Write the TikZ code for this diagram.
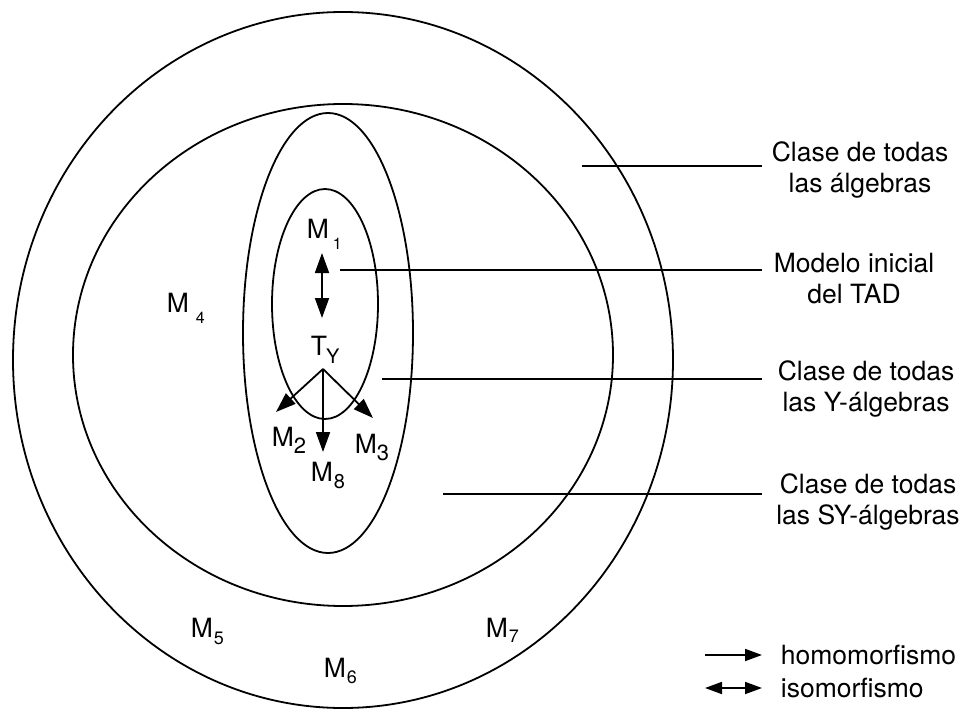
\documentclass[tikz,border=0pt]{standalone}
\usepackage{fontspec}
\setmainfont{TeX Gyre Heros}
\usetikzlibrary{arrows.meta}
\begin{document}
\begin{tikzpicture}[x=1pt,y=-1pt,line width=1.8pt,
  lbl/.style={font=\fontsize{26.5}{31}\selectfont,inner sep=0pt,align=center},
  mlbl/.style={font=\fontsize{26.5}{31}\selectfont,inner sep=0pt,anchor=base west},
  bigtip/.style={-{Triangle[length=20pt,width=14pt]}},
  bigdbl/.style={{Triangle[length=20pt,width=14pt]}-{Triangle[length=20pt,width=14pt]}},
  smalltip/.style={-{Triangle[length=17pt,width=12pt]}},
  smalldbl/.style={{Triangle[length=17pt,width=12pt]}-{Triangle[length=17pt,width=12pt]}},
  leader/.style={line width=1.8pt}]
\useasboundingbox (0,0) rectangle (967,709);
% sets
\draw (343,360) ellipse [x radius=330pt, y radius=348pt];
\draw (343,355) ellipse [x radius=270pt, y radius=251pt];
\draw (328,333) ellipse [x radius=85pt, y radius=220pt];
\draw (325,304) ellipse [x radius=53pt, y radius=115pt];
% labels inside
\node[mlbl] (m1) at (306,238) {M\hspace{4pt}\raisebox{-11pt}{\fontsize{16}{16}\selectfont 1}};
\node[mlbl] (m4) at (166,312) {M\hspace{7pt}\raisebox{-11pt}{\fontsize{16}{16}\selectfont 4}};
\node[mlbl] (ty) at (310,355) {T\hspace{-1pt}\raisebox{-8pt}{\fontsize{20}{20}\selectfont Y}};
\node[mlbl] (m2) at (271,446) {M\raisebox{-7pt}{\fontsize{22}{22}\selectfont 2}};
\node[mlbl] (m3) at (354,453) {M\raisebox{-7pt}{\fontsize{22}{22}\selectfont 3}};
\node[mlbl] (m8) at (310,481) {M\hspace{1pt}\raisebox{-7pt}{\fontsize{20}{20}\selectfont 8}};
\node[mlbl] (m5) at (190,637) {M\hspace{1pt}\raisebox{-7pt}{\fontsize{18}{18}\selectfont 5}};
\node[mlbl] (m6) at (323,677) {M\hspace{1pt}\raisebox{-6pt}{\fontsize{18}{18}\selectfont 6}};
\node[mlbl] (m7) at (485,637) {M\hspace{1pt}\raisebox{-5pt}{\fontsize{18}{18}\selectfont 7}};
% arrows
\coordinate (iso1) at (322,253);
\coordinate (iso2) at (322,318);
\draw[bigdbl] (iso1) -- (iso2);
\coordinate (v) at (323,369);
\coordinate (t2) at (276,412);
\coordinate (t3) at (373,418);
\coordinate (t8) at (323,452);
\draw[bigtip] (v) -- (t2);
\draw[bigtip] (v) -- (t3);
\draw[bigtip] (v) -- (t8);
% right labels
\node[lbl] (c1) at (860,170) {Clase de todas\\las álgebras};
\node[lbl] (c2) at (854,279) {Modelo inicial\\del TAD};
\node[lbl] (c3) at (866,389) {Clase de todas\\las Y-álgebras};
\node[lbl] (c4) at (868,502) {Clase de todas\\las SY-álgebras};
\coordinate (a1) at (582,166);
\coordinate (b1) at (762,166);
\coordinate (a2) at (340,270);
\coordinate (b2) at (762,270);
\coordinate (a3) at (382,379);
\coordinate (b3) at (762,379);
\coordinate (a4) at (443,494);
\coordinate (b4) at (762,494);
\draw[leader] (a1) -- (b1);
\draw[leader] (a2) -- (b2);
\draw[leader] (a3) -- (b3);
\draw[leader] (a4) -- (b4);
% legend
\coordinate (h1) at (705,655);
\coordinate (h2) at (762,655);
\coordinate (i1) at (705,688);
\coordinate (i2) at (762,688);
\draw[smalltip] (h1) -- (h2);
\draw[smalldbl] (i1) -- (i2);
\node[lbl,anchor=west] (hom) at (780,655) {homomorfismo};
\node[lbl,anchor=west] (iso) at (780,688) {isomorfismo};
\end{tikzpicture}
\end{document}
